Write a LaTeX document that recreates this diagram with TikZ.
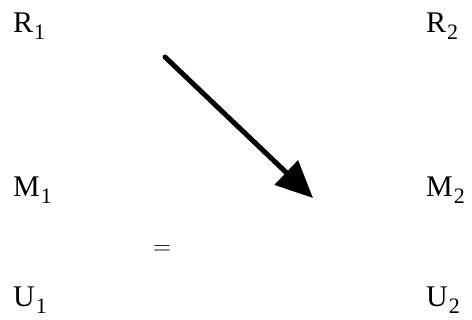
\documentclass[tikz,border=0pt]{standalone}
\usepackage{fontspec}
\setmainfont{Liberation Serif}
\usepackage{tikz}
\usetikzlibrary{
  arrows.meta,%
  positioning,%
  calc
}
\tikzset{>={Triangle[length=37pt, width=33pt]}}
\tikzset{font=\fontsize{30}{36}\selectfont}
\tikzset{obj/.style={anchor=base west, inner sep=0pt}}
\newcommand{\objlbl}[2]{#1\kern1pt\raisebox{-7pt}{\fontsize{22}{26}\selectfont #2}}

\begin{document}
\begin{tikzpicture}[x=1pt, y=-1pt]
          \useasboundingbox (0,0) rectangle (472,320);
          % the two columns of objects
          \foreach \name/\y in {R/33, M/197, U/307} {
            \node[obj] (\name1) at (13,\y) {\objlbl{\name}{1}};
            \node[obj] (\name2) at (426,\y) {\objlbl{\name}{2}};
          }
          \node (eq) at (162,250) {$=$};
          \coordinate (from) at (165,57);
          \coordinate (to) at (313,198);
          \draw[->, line width=5pt, line cap=round] (from) -- (to);
        \end{tikzpicture}
\end{document}
